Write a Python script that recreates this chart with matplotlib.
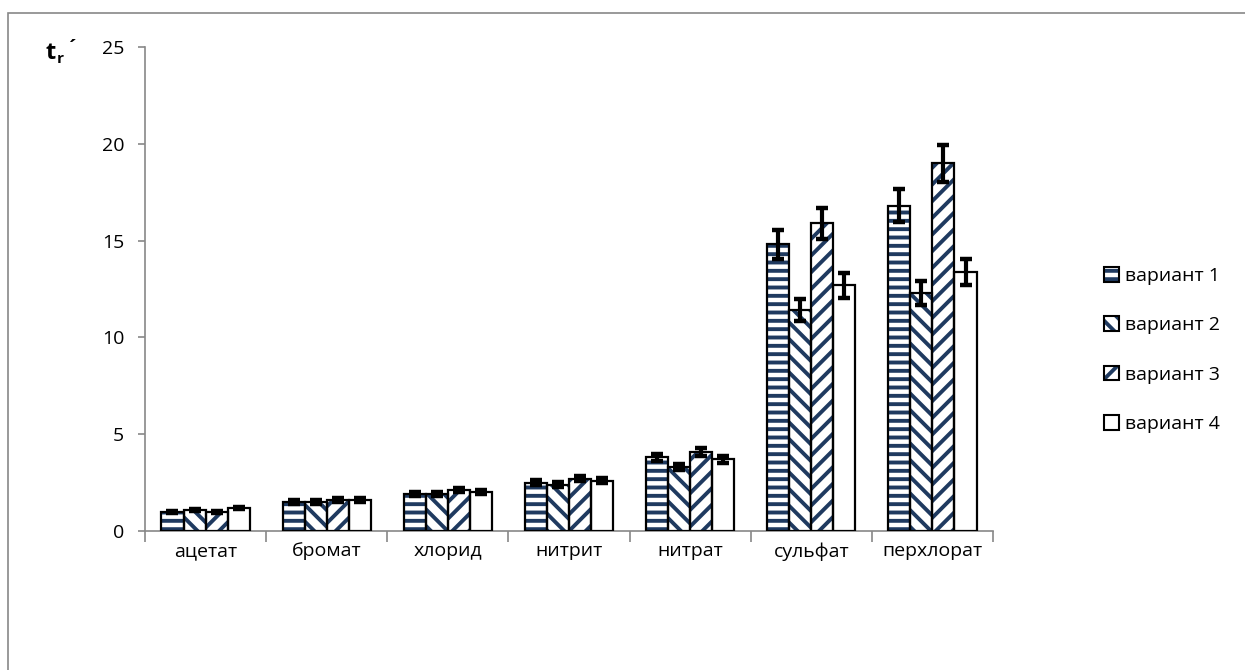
import matplotlib.pyplot as plt
from matplotlib.patches import Rectangle, Patch
from matplotlib.legend_handler import HandlerTuple
import numpy as np

plt.rcParams['font.family'] = ['Open Sans', 'DejaVu Sans']
plt.rcParams['hatch.linewidth'] = 2.8

categories = ['ацетат', 'бромат', 'хлорид', 'нитрит', 'нитрат', 'сульфат', 'перхлорат']
labels = ['вариант 1', 'вариант 2', 'вариант 3', 'вариант 4']

v1 = [1.0, 1.5, 1.9, 2.5, 3.8, 14.8, 16.8]
v2 = [1.1, 1.5, 1.9, 2.4, 3.3, 11.4, 12.3]
v3 = [1.0, 1.6, 2.1, 2.7, 4.1, 15.9, 19.0]
v4 = [1.2, 1.6, 2.0, 2.6, 3.7, 12.7, 13.4]

e1 = [0.05, 0.08, 0.10, 0.13, 0.19, 0.74, 0.84]
e2 = [0.06, 0.08, 0.10, 0.12, 0.17, 0.57, 0.62]
e3 = [0.05, 0.08, 0.11, 0.14, 0.21, 0.80, 0.95]
e4 = [0.06, 0.08, 0.10, 0.13, 0.19, 0.64, 0.67]

series = [v1, v2, v3, v4]
errors = [e1, e2, e3, e4]
hatches = ['--', '\\\\', '//', '']
navy = '#1f3a60'

fig = plt.figure(figsize=(12.45, 6.70), dpi=100)
ax = fig.add_axes([145 / 1245, 139 / 670, (993 - 145) / 1245, (531 - 47) / 670])

# outer frame of the chart area
fig.patches.append(Rectangle((8 / 1245, -0.1), 1.1, 1 - 13 / 670 + 0.1,
                             transform=fig.transFigure, fill=False,
                             edgecolor='#888888', lw=1.2, zorder=0))

x = np.arange(len(categories))
w = 0.182
handles = []
for j, (vals, errs) in enumerate(zip(series, errors)):
    pos = x + (j - 1.5) * w
    ax.bar(pos, vals, w, color='white', edgecolor=navy, hatch=hatches[j],
           linewidth=0, zorder=2)
    ax.bar(pos, vals, w, color='none', edgecolor='black', linewidth=1.6, zorder=3)
    ax.errorbar(pos, vals, yerr=errs, fmt='none', ecolor='black',
                elinewidth=3, capsize=4, capthick=3.2, zorder=4)
    h1 = Patch(facecolor='white', edgecolor=navy, hatch=hatches[j], linewidth=0)
    h2 = Patch(facecolor='none', edgecolor='black', linewidth=1.5)
    handles.append((h1, h2))

ax.set_xlim(-0.5, len(categories) - 0.5)
ax.set_ylim(0, 25)
ax.set_yticks([0, 5, 10, 15, 20, 25])
ax.set_xticks(x)
ax.set_xticklabels(categories, fontsize=14)
ax.set_xticks(np.arange(-0.5, len(categories)), minor=True)
ax.tick_params(axis='x', which='major', length=0, pad=8)
ax.tick_params(axis='x', which='minor', length=8, width=1.2, color='#888888')
ax.tick_params(axis='y', length=5, width=1.2, color='#888888', labelsize=14, pad=10)

for s in ['top', 'right']:
    ax.spines[s].set_visible(False)
for s in ['left', 'bottom']:
    ax.spines[s].set_color('#888888')
    ax.spines[s].set_linewidth(1.2)

# y axis caption t_r´
fig.text(46 / 1245, 1 - 59 / 670, 't', fontsize=17, fontweight='bold')
fig.text(57 / 1245, 1 - 63 / 670, 'r', fontsize=11, fontweight='bold')
fig.text(67 / 1245, 1 - 54 / 670, '´', fontsize=14, fontweight='bold')

ax.legend(handles, labels, handler_map={tuple: HandlerTuple(ndivide=1)},
          loc='center left', bbox_to_anchor=(1086 / 1245, 1 - 350 / 670),
          bbox_transform=fig.transFigure, frameon=False, fontsize=14,
          handlelength=0.8, handleheight=0.8, handletextpad=0.3,
          labelspacing=1.6)

fig.savefig('out.png', dpi=100)
